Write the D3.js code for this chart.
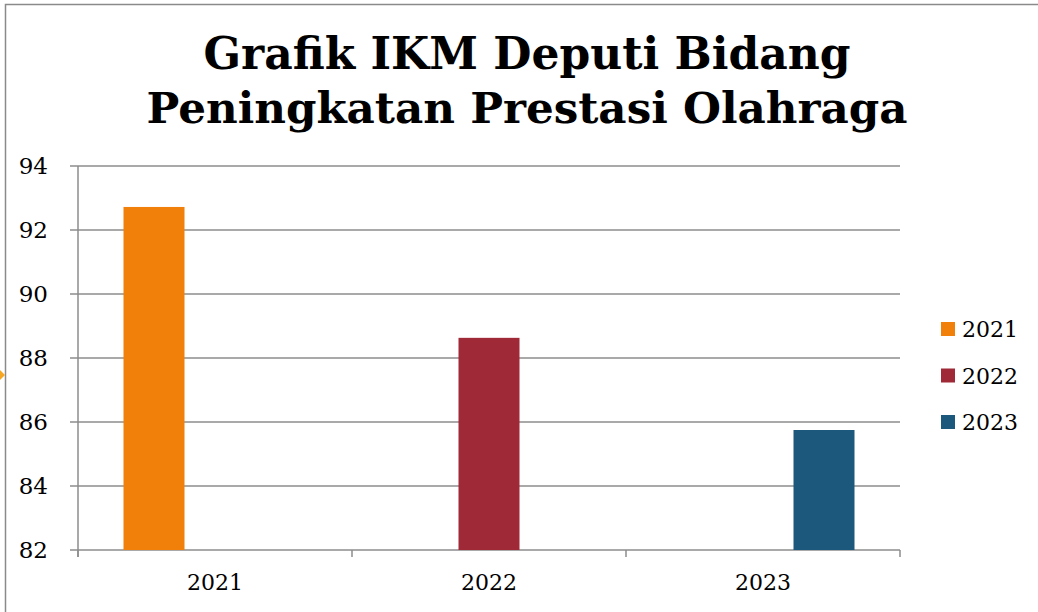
<!DOCTYPE html>
<html>
<head>
<meta charset="utf-8">
<script src="https://cdn.jsdelivr.net/npm/d3@7"></script>
<style>
  body { margin: 0; background: #fff; }
  svg { display: block; }
</style>
</head>
<body>
<script>
// chart data
var categories = ["2021", "2022", "2023"];
var seriesNames = ["2021", "2022", "2023"];
var seriesValues = [
  [92.72, null, null],
  [null, 88.63, null],
  [null, null, 85.75]
];
var yTicks = [82, 84, 86, 88, 90, 92, 94];
var colors = ["#F0800A", "#9F2936", "#1C587C"];
var titleLines = ["Grafik IKM Deputi Bidang", "Peningkatan Prestasi Olahraga"];

var width = 1038, height = 612;
var margin = {top: 166, right: 138, bottom: 62, left: 78};

var svg = d3.select("body").append("svg")
  .attr("width", width).attr("height", height);

// frame of the chart area (left and top edge visible)
svg.append("path")
  .attr("d", "M5.5,612 V4.5 H1038")
  .attr("fill", "none").attr("stroke", "#8a8a8a").attr("stroke-width", 1.5);

// small marker on the left edge
svg.append("path")
  .attr("d", "M0,370 L5,375 L0,380 Z")
  .attr("fill", "#F5A623");

// title, sized to the width of the original lines
var title = svg.append("g").attr("font-family", "'DejaVu Serif', serif")
  .attr("font-weight", "bold").attr("font-size", 44).attr("fill", "#000");
var titleWidths = [647, 761];
titleLines.forEach(function(t, i) {
  var txt = title.append("text")
    .attr("x", 527).attr("y", 69 + i * 54)
    .attr("text-anchor", "middle")
    .text(t);
  var w = txt.node().getComputedTextLength();
  txt.attr("font-size", 44 * titleWidths[i] / w);
});

var x = d3.scaleBand()
  .domain(categories)
  .range([margin.left, width - margin.right]);

var inner = d3.scaleBand()
  .domain(seriesNames)
  .range([0, x.bandwidth()])
  .paddingInner(0)
  .paddingOuter(91 / 2 / 61);

var y = d3.scaleLinear()
  .domain([82, 94])
  .range([height - margin.bottom, margin.top]);

var gridColor = "#8c8c8c";

// gridlines
svg.append("g").selectAll("line").data(yTicks).enter()
  .append("line")
  .attr("x1", margin.left - 8).attr("x2", width - margin.right)
  .attr("y1", function(d) { return y(d); })
  .attr("y2", function(d) { return y(d); })
  .attr("stroke", gridColor).attr("stroke-width", 1.5);

// y axis
var yAxis = svg.append("g")
  .attr("transform", "translate(" + margin.left + ",0)")
  .call(d3.axisLeft(y).tickValues(yTicks).tickSize(8).tickPadding(22)
    .tickFormat(d3.format("d")));
yAxis.select(".domain").attr("d", "M0," + y(94) + "V" + (y(82) + 7))
  .attr("stroke", gridColor).attr("stroke-width", 1.5);
yAxis.selectAll(".tick line").remove();
yAxis.selectAll("text")
  .attr("font-family", "'DejaVu Serif', serif").attr("font-size", 23)
  .attr("fill", "#000");

// x axis
var xAxis = svg.append("g")
  .attr("transform", "translate(0," + y(82) + ")")
  .call(d3.axisBottom(x).tickSize(0).tickPadding(24));
xAxis.select(".domain").remove();
xAxis.selectAll("text")
  .attr("font-family", "'DejaVu Serif', serif").attr("font-size", 22)
  .attr("fill", "#000");
var bounds = categories.map(function(c) { return x(c); }).concat([x.range()[1]]);
xAxis.selectAll(".xtick").data(bounds).enter()
  .append("line").attr("class", "xtick")
  .attr("x1", function(d) { return d; }).attr("x2", function(d) { return d; })
  .attr("y1", 0).attr("y2", 7)
  .attr("stroke", gridColor).attr("stroke-width", 1.5);

// bars
var groups = svg.append("g").selectAll("g").data(seriesValues).enter()
  .append("g").attr("fill", function(d, i) { return colors[i]; });
groups.each(function(vals, si) {
  d3.select(this).selectAll("rect")
    .data(vals.map(function(v, ci) { return {cat: categories[ci], v: v}; })
      .filter(function(d) { return d.v != null; }))
    .enter().append("rect")
    .attr("x", function(d) { return x(d.cat) + inner(seriesNames[si]); })
    .attr("width", inner.bandwidth())
    .attr("y", function(d) { return y(d.v); })
    .attr("height", function(d) { return y(82) - y(d.v); });
});

// legend
var legend = svg.append("g").selectAll("g").data(seriesNames).enter()
  .append("g")
  .attr("transform", function(d, i) { return "translate(941," + (322 + i * 46.5) + ")"; });
legend.append("rect").attr("width", 14).attr("height", 14)
  .attr("fill", function(d, i) { return colors[i]; });
legend.append("text").attr("x", 21).attr("y", 15)
  .attr("font-family", "'DejaVu Serif', serif").attr("font-size", 22)
  .attr("fill", "#000")
  .text(function(d) { return d; });
</script>
</body>
</html>
